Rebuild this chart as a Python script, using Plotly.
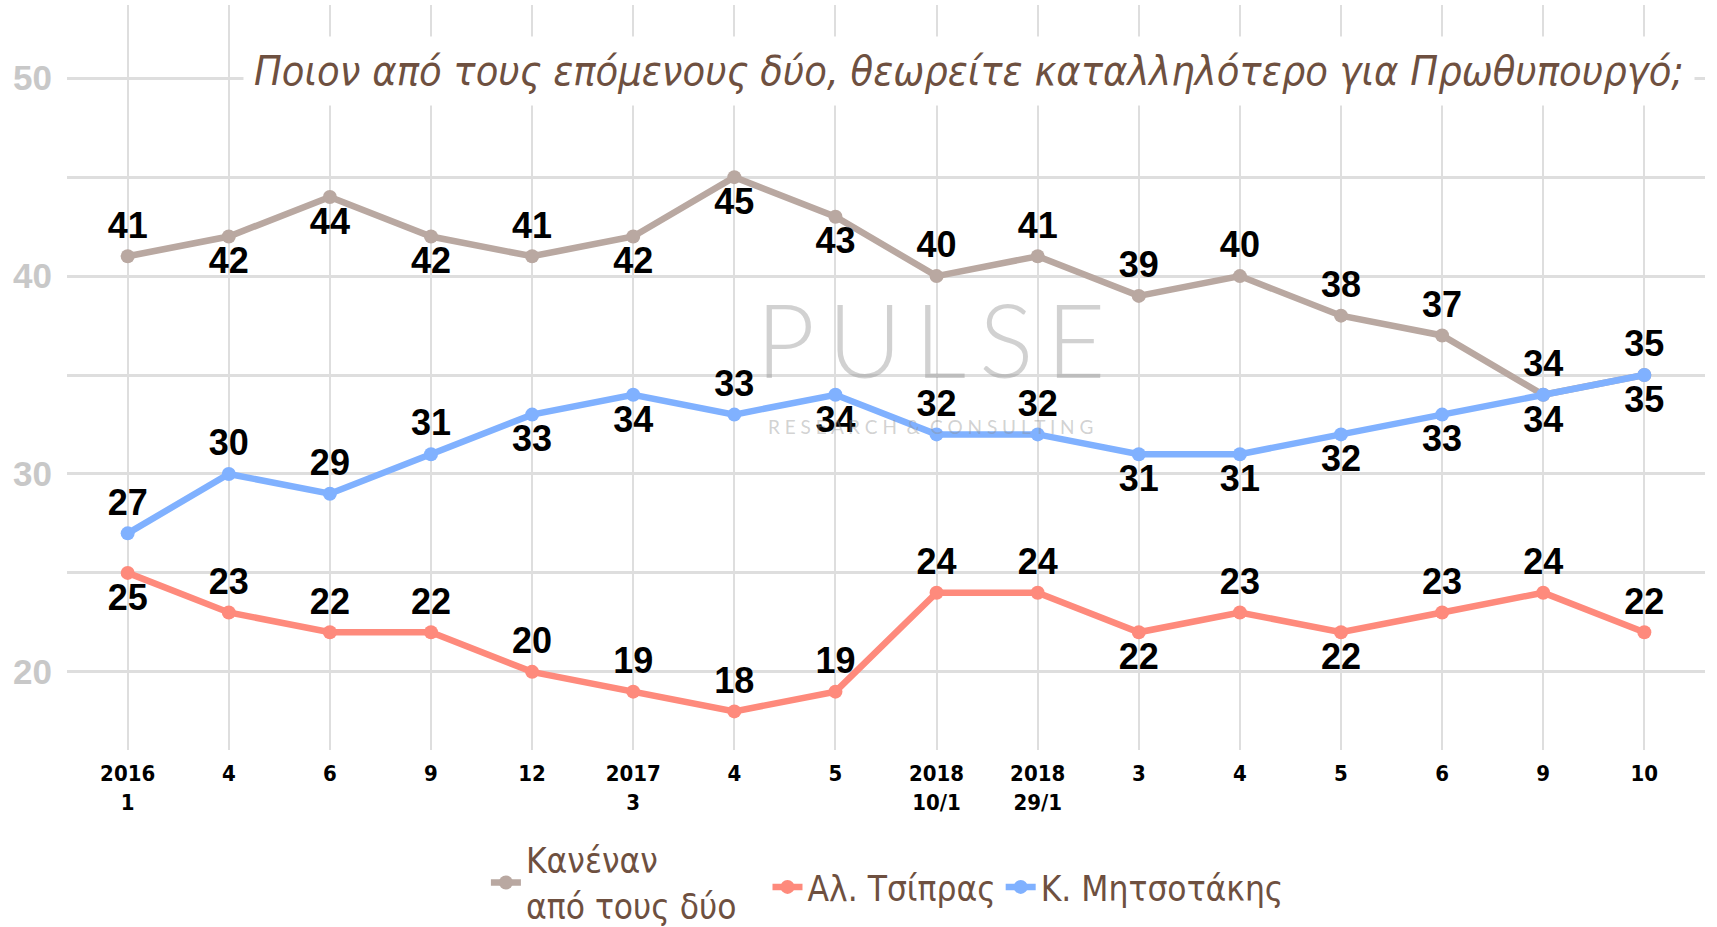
import plotly.graph_objects as go

x_labels = ["2016<br>1", "4", "6", "9", "12", "2017<br>3", "4", "5",
            "2018<br>10/1", "2018<br>29/1", "3", "4", "5", "6", "9", "10"]
kanenan = [41, 42, 44, 42, 41, 42, 45, 43, 40, 41, 39, 40, 38, 37, 34, 35]
tsipras = [25, 23, 22, 22, 20, 19, 18, 19, 24, 24, 22, 23, 22, 23, 24, 22]
mitsotakis = [27, 30, 29, 31, 33, 34, 33, 34, 32, 32, 31, 31, 32, 33, 34, 35]

kanenan_pos = ["t", "b", "b", "b", "t", "b", "b", "b", "t", "t", "t", "t", "t", "t", "t", "b"]
tsipras_pos = ["b", "t", "t", "t", "t", "t", "t", "t", "t", "t", "b", "t", "b", "t", "t", "t"]
mitso_pos = ["t", "t", "t", "t", "b", "b", "t", "b", "t", "t", "b", "b", "b", "b", "b", "t"]

names = ["Κανέναν<br>από τους δύο", "Αλ. Τσίπρας", "Κ. Μητσοτάκης"]
colors = ["#b9a8a1", "#fe8a7c", "#80b1ff"]
title_text = "Ποιον από τους επόμενους δύο, θεωρείτε καταλληλότερο για Πρωθυπουργό;"

NARROW = "DejaVu Sans Condensed, Liberation Sans Narrow, Liberation Sans"

xs = list(range(len(x_labels)))
pmap = {"t": "top center", "b": "bottom center"}

fig = go.Figure()
for name, vals, pos, col, leg in [(names[0], kanenan, kanenan_pos, colors[0], "legend"),
                                  (names[1], tsipras, tsipras_pos, colors[1], "legend2"),
                                  (names[2], mitsotakis, mitso_pos, colors[2], "legend2")]:
    fig.add_trace(go.Scatter(
        x=xs, y=vals, name=name, mode="lines+markers+text", legend=leg,
        text=[str(v) for v in vals], textposition=[pmap[p] for p in pos],
        textfont=dict(family="Liberation Sans, Arial", size=36, color="#000000", weight="bold"),
        line=dict(color=col, width=6.5), marker=dict(color=col, size=14),
        cliponaxis=False,
    ))

# watermark (logo text)
fig.add_annotation(xref="paper", yref="paper", x=0.527, y=0.552, text="P\u2009U\u2009L\u2009S\u2009E",
                   showarrow=False,
                   font=dict(family="Lato, Liberation Sans", size=102, color="rgba(140,140,140,0.40)", weight=300))
fig.add_annotation(xref="paper", yref="paper", x=0.527, y=0.434, text="R E S E A R C H  &  C O N S U L T I N G",
                   showarrow=False, font=dict(family="Lato, Liberation Sans", size=19, color="rgba(140,140,140,0.40)"))

fig.add_annotation(xref="paper", yref="paper", x=0.994, y=0.911, xanchor="right", yanchor="middle",
                   text="<i>" + title_text + "</i>", showarrow=False, bgcolor="white",
                   borderpad=10,
                   font=dict(family=NARROW, size=41.2, color="#6e5040"))

leg_font = dict(family=NARROW, size=35, color="#6e5040")
fig.update_layout(
    width=1717, height=927,
    margin=dict(l=67, r=12, t=5, b=177, autoexpand=False),
    paper_bgcolor="white", plot_bgcolor="white",
    showlegend=True,
    legend=dict(orientation="h", xref="container", x=0.283, xanchor="left",
                yref="container", y=0.048, yanchor="middle", valign="middle",
                bgcolor="rgba(0,0,0,0)", font=leg_font, itemwidth=30),
    legend2=dict(orientation="h", xref="container", x=0.447, xanchor="left",
                 yref="container", y=0.043, yanchor="middle", valign="middle",
                 bgcolor="rgba(0,0,0,0)", font=leg_font, itemwidth=30),
    xaxis=dict(tickmode="array", tickvals=xs, ticktext=x_labels, range=[-0.6, 15.6],
               showgrid=True, gridcolor="#dedede", gridwidth=2, zeroline=False, automargin=False,
               tickfont=dict(family=NARROW, size=22, color="#000000", weight="bold"),
               showline=False, ticks="", ticklabelstandoff=8),
    yaxis=dict(tickmode="array", tickvals=[20, 25, 30, 35, 40, 45, 50],
               ticktext=["20", "", "30", "", "40", "", "50"], range=[16.05, 53.7],
               showgrid=True, gridcolor="#dedede", gridwidth=2.5, zeroline=False, automargin=False,
               tickfont=dict(family="Liberation Sans, Arial", size=35, color="#c8c8c8", weight="bold"),
               ticks="", ticklabelstandoff=14),
)

fig.write_html("out.html", config={"displayModeBar": False},
               post_script="document.body.style.margin='0';")
